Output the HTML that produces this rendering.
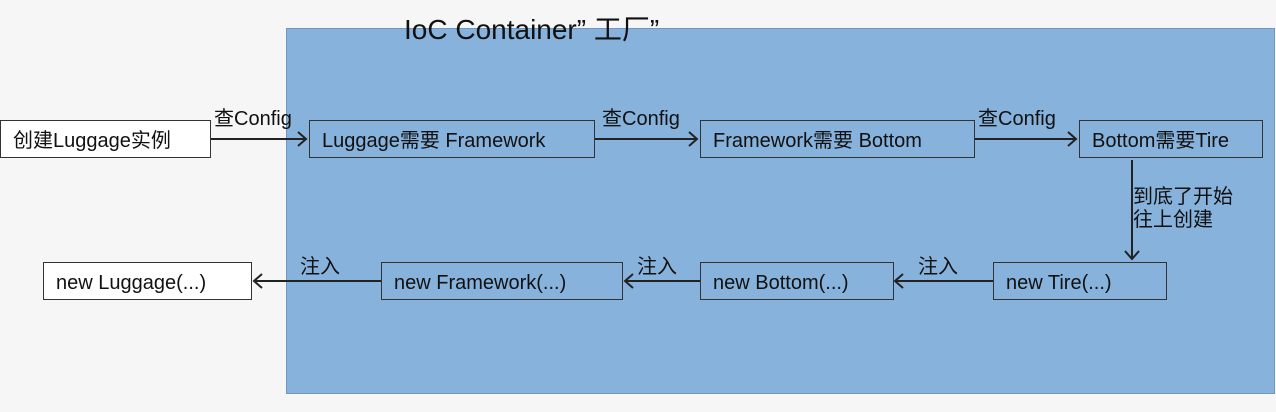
<!DOCTYPE html>
<html><head><meta charset="utf-8"><style>
body{margin:0;width:1276px;height:412px;background:#f6f6f6;position:relative;overflow:hidden;font-family:"Liberation Sans","Noto Sans CJK SC",sans-serif;color:#111}
.c{position:absolute;left:286px;top:28px;width:989px;height:366px;background:#86b2dc;border:1px solid #6f97c0;box-sizing:border-box}
.b{position:absolute;height:38px;border:1.5px solid #333;box-sizing:border-box;font-size:20px;line-height:40px;padding-left:12px;white-space:nowrap}
.w{background:#fff}
.t{position:absolute;font-size:20px;white-space:nowrap;line-height:22px}
</style></head><body>
<div class="c"></div>
<div class="t" style="left:404px;top:14px;font-size:28px;line-height:32px">IoC Container” 工厂”</div>
<div class="b w" style="left:0;top:120px;width:211px">创建Luggage实例</div>
<div class="b" style="left:309px;top:120px;width:286px">Luggage需要 Framework</div>
<div class="b" style="left:700px;top:120px;width:275px">Framework需要 Bottom</div>
<div class="b" style="left:1079px;top:120px;width:184px">Bottom需要Tire</div>
<div class="b w" style="left:43px;top:262px;width:209px">new Luggage(...)</div>
<div class="b" style="left:381px;top:262px;width:242px">new Framework(...)</div>
<div class="b" style="left:700px;top:262px;width:194px">new Bottom(...)</div>
<div class="b" style="left:993px;top:262px;width:174px">new Tire(...)</div>
<div class="t" style="left:214px;top:108px">查Config</div>
<div class="t" style="left:602px;top:108px">查Config</div>
<div class="t" style="left:978px;top:108px">查Config</div>
<div class="t" style="left:1133px;top:186px;line-height:23px">到底了开始<br>往上创建</div>
<div class="t" style="left:300px;top:256px">注入</div>
<div class="t" style="left:637px;top:256px">注入</div>
<div class="t" style="left:918px;top:256px">注入</div>
<svg width="1276" height="412" style="position:absolute;left:0;top:0" fill="none" stroke="#222" stroke-width="2">
<path d="M211 139H306M298 132l8 7-8 7"/>
<path d="M595 139H697M689 132l8 7-8 7"/>
<path d="M975 139H1076M1068 132l8 7-8 7"/>
<path d="M1132 160V259M1125 251l7 8 7-8"/>
<path d="M993 281H895M903 274l-8 7 8 7"/>
<path d="M700 281H625M633 274l-8 7 8 7"/>
<path d="M381 281H254M262 274l-8 7 8 7"/>
</svg>
</body></html>
